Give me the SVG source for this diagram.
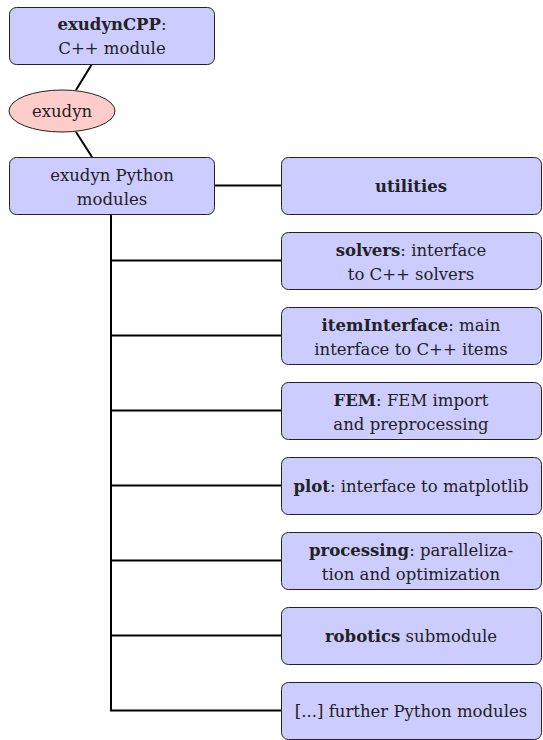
<svg xmlns="http://www.w3.org/2000/svg" width="543" height="740" viewBox="0 0 543 740">
<style>
.box{fill:#ccccff;stroke:#222;stroke-width:1}
.ell{fill:#ffcccc;stroke:#222;stroke-width:1}
.ln{stroke:#000;stroke-width:2;fill:none}
text{font-family:'DejaVu Serif',serif;font-size:16.5px;fill:#222;text-anchor:middle}
.b{font-weight:bold}
</style>
<rect width="543" height="740" fill="#fff"/>
<g id="connectors">
<line class="ln" x1="92" y1="64" x2="76" y2="90"/>
<line class="ln" x1="76" y1="132" x2="92" y2="157"/>
<line class="ln" x1="214" y1="185.5" x2="281" y2="185.5"/>
<path class="ln" d="M111 214V711"/>
<line class="ln" x1="110" y1="260.5" x2="281" y2="260.5"/>
<line class="ln" x1="110" y1="335.5" x2="281" y2="335.5"/>
<line class="ln" x1="110" y1="410.5" x2="281" y2="410.5"/>
<line class="ln" x1="110" y1="485.5" x2="281" y2="485.5"/>
<line class="ln" x1="110" y1="560.5" x2="281" y2="560.5"/>
<line class="ln" x1="110" y1="635.5" x2="281" y2="635.5"/>
<line class="ln" x1="110" y1="710.5" x2="281" y2="710.5"/>
</g>
<g id="exudynCPP"><rect class="box" x="9.5" y="7.5" width="205" height="57" rx="7"/><text x="112" y="30"><tspan class="b">exudynCPP</tspan>:</text><text x="112" y="54">C++ module</text></g>
<g id="exudyn"><ellipse class="ell" cx="62" cy="111" rx="53" ry="21"/><text x="62" y="117">exudyn</text></g>
<g id="pymodules"><rect class="box" x="9.5" y="157.5" width="205" height="57" rx="7"/><text x="112" y="181">exudyn Python</text><text x="112" y="205">modules</text></g>
<g id="utilities"><rect class="box" x="281.5" y="157.5" width="260" height="57" rx="7"/><text x="411" y="192" class="b">utilities</text></g>
<g id="solvers"><rect class="box" x="281.5" y="232.5" width="260" height="57" rx="7"/><text x="411" y="256"><tspan class="b">solvers</tspan>: interface</text><text x="411" y="280">to C++ solvers</text></g>
<g id="itemInterface"><rect class="box" x="281.5" y="307.5" width="260" height="57" rx="7"/><text x="411" y="331"><tspan class="b">itemInterface</tspan>: main</text><text x="411" y="355">interface to C++ items</text></g>
<g id="FEM"><rect class="box" x="281.5" y="382.5" width="260" height="57" rx="7"/><text x="411" y="406"><tspan class="b">FEM</tspan>: FEM import</text><text x="411" y="430">and preprocessing</text></g>
<g id="plot"><rect class="box" x="281.5" y="457.5" width="260" height="57" rx="7"/><text x="411" y="492"><tspan class="b">plot</tspan>: interface to matplotlib</text></g>
<g id="processing"><rect class="box" x="281.5" y="532.5" width="260" height="57" rx="7"/><text x="411" y="556"><tspan class="b">processing</tspan>: paralleliza-</text><text x="411" y="580">tion and optimization</text></g>
<g id="robotics"><rect class="box" x="281.5" y="607.5" width="260" height="57" rx="7"/><text x="411" y="642"><tspan class="b">robotics</tspan> submodule</text></g>
<g id="further"><rect class="box" x="281.5" y="682.5" width="260" height="57" rx="7"/><text x="411" y="717">[...] further Python modules</text></g>
</svg>
